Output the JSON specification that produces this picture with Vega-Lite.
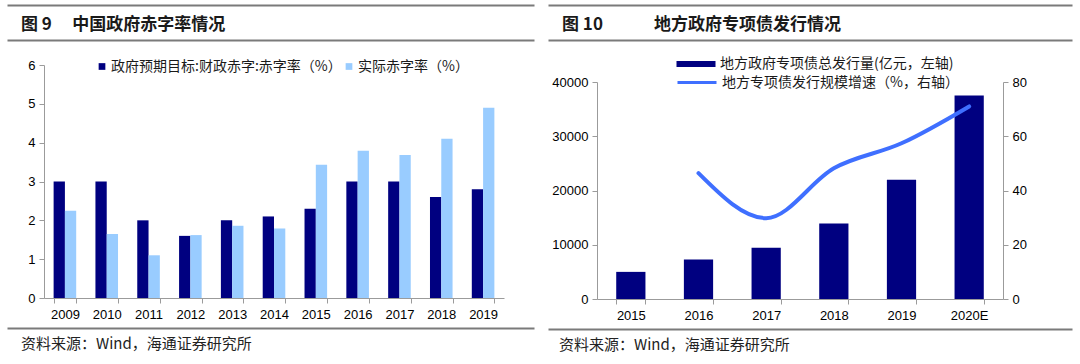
{
  "$schema": "https://vega.github.io/schema/vega-lite/v6.json",
  "background": "white",
  "padding": {"left": 21, "top": 5, "right": 0, "bottom": 0},
  "config": {
    "view": {"stroke": null},
    "font": "Liberation Sans",
    "axis": {"labelFont": "Liberation Sans", "labelFontSize": 13, "labelColor": "#000000", "domainColor": "#9b9b9b", "tickColor": "#9b9b9b", "tickSize": 5, "grid": false},
    "legend": {"labelFont": "Noto Sans CJK SC", "labelFontSize": 14, "labelColor": "#1a1a1a", "padding": 0},
    "title": {"font": "Noto Sans CJK SC"}
  },
  "spacing": -20,
  "resolve": {"scale": {"color": "independent", "stroke": "independent"}, "legend": {"color": "independent", "stroke": "independent"}},
  "hconcat": [
    {
      "spacing": 7,
      "resolve": {"scale": {"color": "independent", "stroke": "independent"}, "legend": {"color": "independent", "stroke": "independent"}},
      "vconcat": [
        {
          "width": 460, "height": 27,
          "data": {"values": [{"v": 0.5}]},
          "mark": {"type": "point", "opacity": 0, "size": 0},
          "encoding": {"x": {"field": "v", "type": "quantitative", "scale": {"domain": [0, 1], "range": [-37, 490]},
            "axis": {"orient": "top", "title": null, "ticks": false, "labels": false, "domainColor": "#7a7a7a", "domainWidth": 2}}},
          "title": {"text": "图 9\u3000\u2009中国政府赤字率情况", "orient": "top", "anchor": "start", "frame": "group", "offset": -37, "baseline": "middle", "dx": -23, "fontSize": 17, "fontWeight": "bold", "font": "Noto Sans CJK SC", "color": "#1a1a1a"}
        },
        {
          "width": 460, "height": 12,
          "data": {"values": [{"v": 0.5}]},
          "mark": {"type": "point", "opacity": 0, "size": 0},
          "encoding": {"x": {"field": "v", "type": "quantitative", "scale": {"domain": [0, 1], "range": [-37, 490]},
            "axis": {"orient": "top", "title": null, "ticks": false, "labels": false, "domainColor": "#7a7a7a", "domainWidth": 2}}}
        },
        {
          "width": 460, "height": 233,
          "data": {"values": [
            {"year": "2009", "series": "政府预期目标:财政赤字:赤字率（%）", "value": 3.0},
            {"year": "2009", "series": "实际赤字率（%）", "value": 2.25},
            {"year": "2010", "series": "政府预期目标:财政赤字:赤字率（%）", "value": 3.0},
            {"year": "2010", "series": "实际赤字率（%）", "value": 1.65},
            {"year": "2011", "series": "政府预期目标:财政赤字:赤字率（%）", "value": 2.0},
            {"year": "2011", "series": "实际赤字率（%）", "value": 1.1},
            {"year": "2012", "series": "政府预期目标:财政赤字:赤字率（%）", "value": 1.6},
            {"year": "2012", "series": "实际赤字率（%）", "value": 1.62},
            {"year": "2013", "series": "政府预期目标:财政赤字:赤字率（%）", "value": 2.0},
            {"year": "2013", "series": "实际赤字率（%）", "value": 1.86},
            {"year": "2014", "series": "政府预期目标:财政赤字:赤字率（%）", "value": 2.1},
            {"year": "2014", "series": "实际赤字率（%）", "value": 1.79},
            {"year": "2015", "series": "政府预期目标:财政赤字:赤字率（%）", "value": 2.3},
            {"year": "2015", "series": "实际赤字率（%）", "value": 3.43},
            {"year": "2016", "series": "政府预期目标:财政赤字:赤字率（%）", "value": 3.0},
            {"year": "2016", "series": "实际赤字率（%）", "value": 3.79},
            {"year": "2017", "series": "政府预期目标:财政赤字:赤字率（%）", "value": 3.0},
            {"year": "2017", "series": "实际赤字率（%）", "value": 3.68},
            {"year": "2018", "series": "政府预期目标:财政赤字:赤字率（%）", "value": 2.6},
            {"year": "2018", "series": "实际赤字率（%）", "value": 4.1},
            {"year": "2019", "series": "政府预期目标:财政赤字:赤字率（%）", "value": 2.8},
            {"year": "2019", "series": "实际赤字率（%）", "value": 4.9}
          ]},
          "mark": {"type": "bar"},
          "encoding": {
            "x": {"field": "year", "type": "nominal", "title": null,
                  "scale": {"paddingInner": 0.46, "paddingOuter": 0.23},
                  "axis": {"labelAngle": 0, "tickBand": "extent", "labelPadding": 5}},
            "xOffset": {"field": "series", "type": "nominal", "sort": ["政府预期目标:财政赤字:赤字率（%）", "实际赤字率（%）"]},
            "y": {"field": "value", "type": "quantitative", "title": null,
                  "scale": {"domain": [0, 6]},
                  "axis": {"values": [0, 1, 2, 3, 4, 5, 6], "labelPadding": 4}},
            "color": {"field": "series", "type": "nominal",
                      "scale": {"domain": ["政府预期目标:财政赤字:赤字率（%）", "实际赤字率（%）"], "range": ["#000080", "#99ccff"]},
                      "legend": {"title": null, "orient": "none", "legendX": 51, "legendY": -5.5, "direction": "horizontal",
                                 "symbolType": "square", "symbolSize": 45, "symbolStrokeWidth": 0, "labelOffset": 2,
                                 "columnPadding": -3, "labelLimit": 400}}
          }
        },
        {
          "width": 460, "height": 1,
          "data": {"values": [{"v": 0.5}]},
          "mark": {"type": "point", "opacity": 0, "size": 0},
          "encoding": {"x": {"field": "v", "type": "quantitative", "scale": {"domain": [0, 1], "range": [-37, 490]},
            "axis": {"orient": "top", "title": null, "ticks": false, "labels": false, "domainColor": "#7a7a7a", "domainWidth": 2}}},
          "title": {"text": "资料来源：Wind，海通证券研究所", "orient": "bottom", "anchor": "start", "frame": "group", "offset": 8, "baseline": "top", "dx": -23, "fontSize": 15, "fontWeight": "normal", "font": "Noto Sans CJK SC", "color": "#222222"}
        }
      ]
    },
    {
      "spacing": 7,
      "resolve": {"scale": {"color": "independent", "stroke": "independent"}, "legend": {"color": "independent", "stroke": "independent"}},
      "vconcat": [
        {
          "width": 406, "height": 27,
          "data": {"values": [{"v": 0.5}]},
          "mark": {"type": "point", "opacity": 0, "size": 0},
          "encoding": {"x": {"field": "v", "type": "quantitative", "scale": {"domain": [0, 1], "range": [-49, 475]},
            "axis": {"orient": "top", "title": null, "ticks": false, "labels": false, "domainColor": "#7a7a7a", "domainWidth": 2}}},
          "title": {"text": "图 10\u3000\u3000\u3000地方政府专项债发行情况", "orient": "top", "anchor": "start", "frame": "group", "offset": -37, "baseline": "middle", "dx": -35, "fontSize": 17, "fontWeight": "bold", "font": "Noto Sans CJK SC", "color": "#1a1a1a"}
        },
        {
          "width": 406, "height": 10,
          "data": {"values": [{"v": 0.5}]},
          "mark": {"type": "point", "opacity": 0, "size": 0},
          "encoding": {"x": {"field": "v", "type": "quantitative", "scale": {"domain": [0, 1], "range": [-49, 475]},
            "axis": {"orient": "top", "title": null, "ticks": false, "labels": false, "domainColor": "#7a7a7a", "domainWidth": 2}}}
        },
        {
          "width": 406, "height": 217,
          "data": {"values": [
            {"year": "2015", "issuance": 5000, "growth": null},
            {"year": "2016", "issuance": 7300, "growth": 46.4},
            {"year": "2017", "issuance": 9450, "growth": 29.8},
            {"year": "2018", "issuance": 13900, "growth": 48.2},
            {"year": "2019", "issuance": 22000, "growth": 57.4},
            {"year": "2020E", "issuance": 37500, "growth": 71.0}
          ]},
          "encoding": {
            "x": {"field": "year", "type": "nominal", "title": null,
                  "scale": {"paddingInner": 0.568, "paddingOuter": 0.284},
                  "axis": {"labelAngle": 0, "tickBand": "extent", "labelPadding": 5}}
          },
          "layer": [
            {
              "mark": {"type": "bar"},
              "encoding": {
                "y": {"field": "issuance", "type": "quantitative", "title": null,
                      "scale": {"domain": [0, 40000]},
                      "axis": {"values": [0, 10000, 20000, 30000, 40000], "format": "d", "labelPadding": 4}},
                "color": {"datum": "地方政府专项债总发行量(亿元，左轴)",
                          "scale": {"range": ["#000080"]},
                          "legend": {"title": null, "orient": "none", "legendX": 92, "legendY": -25,
                                     "symbolType": "M-3,-0.45H3V0.45H-3Z", "symbolSize": 169, "symbolStrokeWidth": 0,
                                     "labelOffset": 17, "labelLimit": 400}}
              }
            },
            {
              "mark": {"type": "line", "interpolate": "monotone", "strokeWidth": 4, "strokeCap": "round"},
              "encoding": {
                "y": {"field": "growth", "type": "quantitative", "title": null,
                      "scale": {"domain": [0, 80]},
                      "axis": {"orient": "right", "values": [0, 20, 40, 60, 80], "labelPadding": 4}},
                "stroke": {"datum": "地方专项债发行规模增速（%，右轴）",
                           "scale": {"range": ["#3f6fff"]},
                           "legend": {"title": null, "orient": "none", "legendX": 92, "legendY": -7.5,
                                      "symbolType": "M-3,0H3", "symbolSize": 169, "symbolStrokeWidth": 3,
                                      "labelOffset": 17, "labelLimit": 400}}
              }
            }
          ],
          "resolve": {"scale": {"y": "independent"}}
        },
        {
          "width": 406, "height": 1,
          "data": {"values": [{"v": 0.5}]},
          "mark": {"type": "point", "opacity": 0, "size": 0},
          "encoding": {"x": {"field": "v", "type": "quantitative", "scale": {"domain": [0, 1], "range": [-49, 475]},
            "axis": {"orient": "top", "title": null, "ticks": false, "labels": false, "domainColor": "#7a7a7a", "domainWidth": 2}}},
          "title": {"text": "资料来源：Wind，海通证券研究所", "orient": "bottom", "anchor": "start", "frame": "group", "offset": 8, "baseline": "top", "dx": -38, "fontSize": 15, "fontWeight": "normal", "font": "Noto Sans CJK SC", "color": "#222222"}
        }
      ]
    }
  ]
}
